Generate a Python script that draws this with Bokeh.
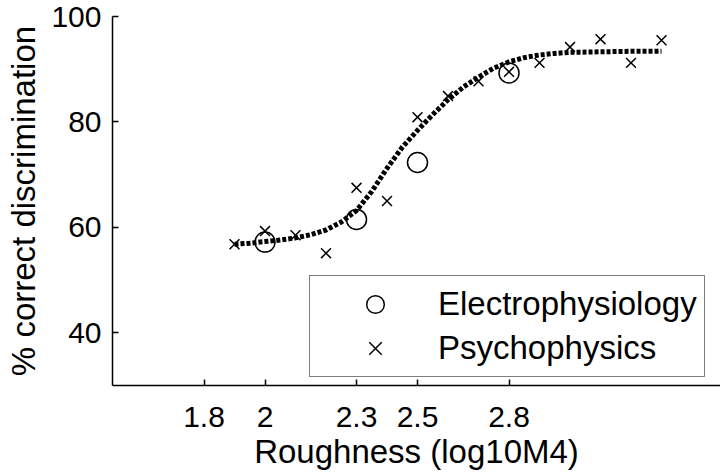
from bokeh.plotting import figure
from bokeh.models import Range1d, FixedTicker, Legend, LegendItem
from bokeh.embed import file_html
from bokeh.resources import INLINE

# ---- data ----
psy_x = [1.9, 2.0, 2.1, 2.2, 2.3, 2.4, 2.5, 2.6, 2.7, 2.8, 2.9, 3.0, 3.1, 3.2, 3.3]
psy_y = [56.8, 59.3, 58.5, 55.1, 67.5, 65.0, 80.9, 84.9, 87.7, 89.5, 91.2, 94.2, 95.7, 91.2, 95.5]

ephys_x = [2.0, 2.3, 2.5, 2.8]
ephys_y = [57.2, 61.5, 72.3, 89.3]

fit_x = [1.90, 1.95, 2.00, 2.05, 2.10, 2.15, 2.20, 2.25, 2.30, 2.35, 2.40, 2.45,
         2.50, 2.55, 2.60, 2.65, 2.70, 2.75, 2.80, 2.85, 2.90, 2.95, 3.00, 3.10,
         3.20, 3.30]
fit_y = [56.8, 57.0, 57.3, 57.6, 58.0, 58.6, 59.5, 61.0, 63.2, 66.8, 71.2, 75.2,
         78.4, 81.4, 84.2, 86.6, 88.5, 90.2, 91.4, 92.2, 92.7, 93.0, 93.2, 93.3,
         93.4, 93.4]

x_ticks = [1.8, 2.0, 2.3, 2.5, 2.8]
x_tick_labels = ["1.8", "2", "2.3", "2.5", "2.8"]
y_ticks = [40, 60, 80, 100]

FONT = "Liberation Sans"

p = figure(width=720, height=473, output_backend="svg", toolbar_location=None,
           x_range=Range1d(1.5, 3.4934), y_range=Range1d(30, 100),
           min_border_left=112, min_border_right=0, min_border_top=16,
           min_border_bottom=88)
p.outline_line_color = None
p.grid.visible = False
p.background_fill_color = "white"
p.border_fill_color = "white"

line_r = p.line(fit_x, fit_y, line_color="black", line_width=5, line_dash="4 2")
circ_r = p.scatter(ephys_x, ephys_y, marker="circle", size=20, fill_color=None,
                   line_color="black", line_width=1.5)
x_r = p.scatter(psy_x, psy_y, marker="x", size=14, line_color="black", line_width=1.5)

for ax in (p.xaxis[0], p.yaxis[0]):
    ax.axis_line_color = "black"
    ax.axis_line_width = 1.5
    ax.major_tick_line_color = "black"
    ax.major_tick_line_width = 1.5
    ax.major_tick_in = 6
    ax.major_tick_out = 0
    ax.minor_tick_line_color = None
    ax.major_label_text_font = FONT
    ax.major_label_text_font_size = "30px"
    ax.major_label_text_color = "black"
    ax.axis_label_text_font = FONT
    ax.axis_label_text_font_size = "33px"
    ax.axis_label_text_font_style = "normal"
    ax.axis_label_text_color = "black"

p.xaxis.ticker = FixedTicker(ticks=x_ticks)
p.xaxis.major_label_overrides = {t: l for t, l in zip(x_ticks, x_tick_labels)}
p.yaxis.ticker = FixedTicker(ticks=y_ticks)
p.xaxis.axis_label = "Roughness (log10M4)"
p.yaxis.axis_label = "% correct discrimination"
p.xaxis.major_label_standoff = 21
p.yaxis.major_label_standoff = 11
p.xaxis.axis_label_standoff = 3
p.yaxis.axis_label_standoff = 6

legend = Legend(items=[LegendItem(label="Electrophysiology", renderers=[circ_r]),
                       LegendItem(label="Psychophysics", renderers=[x_r])],
                location=(197, 8), orientation="vertical",
                padding=6, spacing=0, margin=0,
                glyph_width=118, glyph_height=44, label_height=44,
                label_standoff=4, label_width=260,
                label_text_font=FONT, label_text_font_size="33px",
                label_text_color="black",
                border_line_color="black", border_line_width=1.5,
                background_fill_color="white", background_fill_alpha=1.0)
p.add_layout(legend, "center")

open("out.html", "w").write(file_html(p, INLINE))
